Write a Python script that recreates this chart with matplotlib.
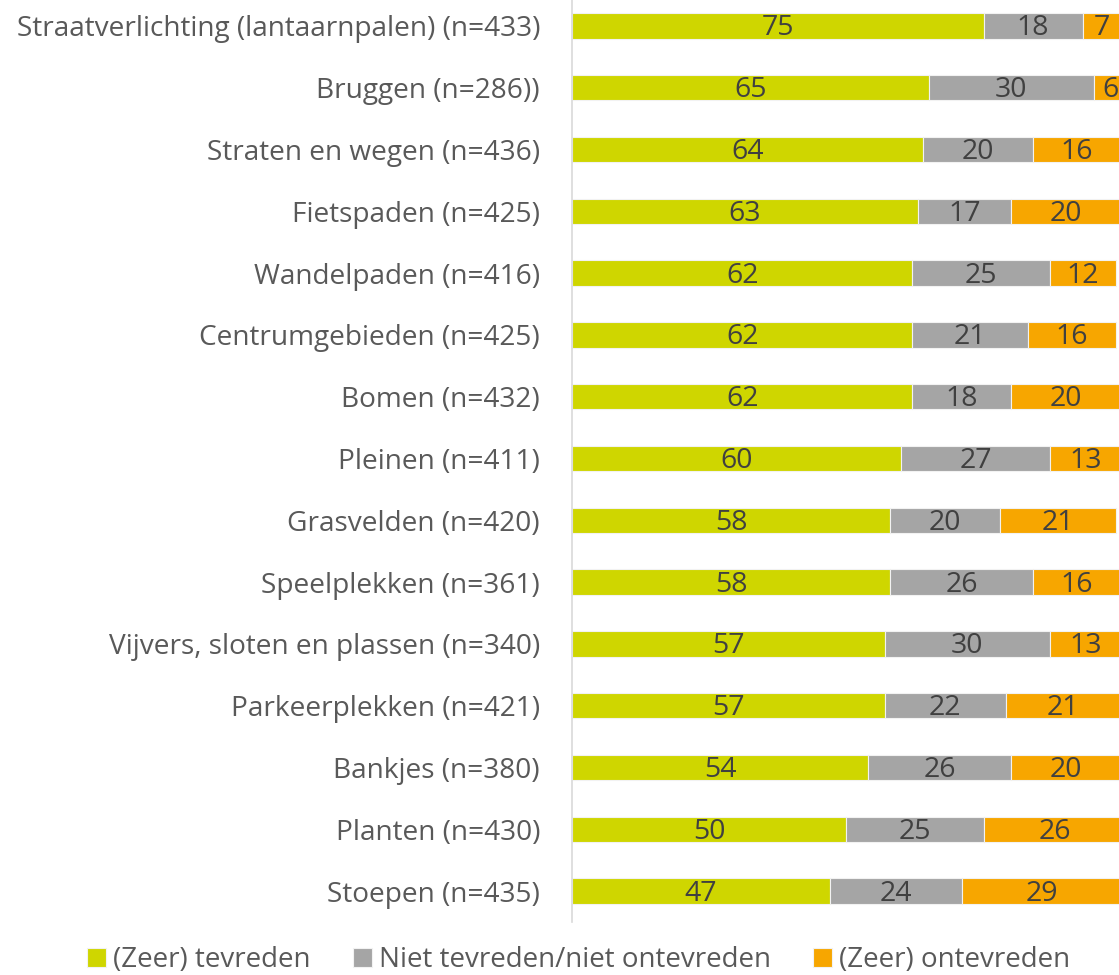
import matplotlib.pyplot as plt
import numpy as np

plt.rcParams['font.family'] = ['Open Sans', 'DejaVu Sans']

# Categorieën en percentages
categories = [
    'Straatverlichting (lantaarnpalen) (n=433)',
    'Bruggen (n=286))',
    'Straten en wegen (n=436)',
    'Fietspaden (n=425)',
    'Wandelpaden (n=416)',
    'Centrumgebieden (n=425)',
    'Bomen (n=432)',
    'Pleinen (n=411)',
    'Grasvelden (n=420)',
    'Speelplekken (n=361)',
    'Vijvers, sloten en plassen (n=340)',
    'Parkeerplekken (n=421)',
    'Bankjes (n=380)',
    'Planten (n=430)',
    'Stoepen (n=435)',
]
tevreden = [75, 65, 64, 63, 62, 62, 62, 60, 58, 58, 57, 57, 54, 50, 47]
neutraal = [18, 30, 20, 17, 25, 21, 18, 27, 20, 26, 30, 22, 26, 25, 24]
ontevreden = [7, 6, 16, 20, 12, 16, 20, 13, 21, 16, 13, 21, 20, 26, 29]

series_names = ['(Zeer) tevreden', 'Niet tevreden/niet ontevreden', '(Zeer) ontevreden']
colors = ['#CFD600', '#A5A5A5', '#F7A600']


def main():
    fig = plt.figure(figsize=(11.19, 9.75), dpi=100)
    ax = fig.add_axes([572 / 1119, 1 - 922 / 975, 549 / 1119, 927 / 975])

    y = np.arange(len(categories))
    left = np.zeros(len(categories))
    handles = []
    for vals, name, col in zip([tevreden, neutraal, ontevreden], series_names, colors):
        vals = np.array(vals, dtype=float)
        bars = ax.barh(y, vals, left=left, height=0.41, color=col,
                       edgecolor='#F2F2F2', linewidth=0.8, label=name)
        handles.append(bars)
        for yi, l, v in zip(y, left, vals):
            ax.text(l + v / 2, yi + 0.04, f'{int(v)}', ha='center', va='center',
                    fontsize=20.5, color='#404040')
        left += vals

    ax.set_xlim(0, 100)
    ax.set_ylim(len(categories) - 0.5, -0.5)
    ax.set_yticks(y)
    ax.set_yticklabels(categories, fontsize=20.2, color='#595959')
    ax.tick_params(axis='y', length=0, pad=23)
    ax.set_xticks([])
    for s in ['top', 'right', 'bottom']:
        ax.spines[s].set_visible(False)
    ax.spines['left'].set_color('#D9D9D9')
    ax.spines['left'].set_linewidth(1.2)

    leg = fig.legend(handles=handles, labels=series_names, loc='center',
                     bbox_to_anchor=(0.517, 1 - 960 / 975), ncol=3, frameon=False,
                     fontsize=20, handlelength=0.7, handleheight=0.7,
                     handletextpad=0.25, columnspacing=1.5)
    for t in leg.get_texts():
        t.set_color('#595959')

    fig.savefig('out.png', dpi=100)


if __name__ == "__main__":
    main()
